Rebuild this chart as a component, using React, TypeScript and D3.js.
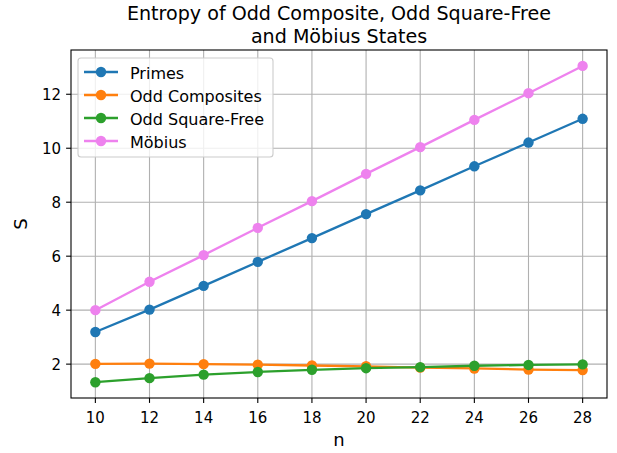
import React from "react";
import * as d3 from "d3";

const nValues = [10, 12, 14, 16, 18, 20, 22, 24, 26, 28];
const primes = [3.19, 4.02, 4.9, 5.79, 6.67, 7.56, 8.44, 9.33, 10.21, 11.09];
const oddComposites = [2.01, 2.02, 2.0, 1.98, 1.95, 1.92, 1.87, 1.84, 1.8, 1.78];
const oddSquareFree = [1.33, 1.48, 1.61, 1.71, 1.79, 1.85, 1.89, 1.94, 1.97, 1.99];
const mobius = [4.0, 5.05, 6.04, 7.05, 8.04, 9.05, 10.04, 11.05, 12.04, 13.05];
const seriesNames = ["Primes", "Odd Composites", "Odd Square-Free", "Möbius"];
const seriesColors = ["#1f77b4", "#ff7f0e", "#2ca02c", "violet"];
const xTicks = [10, 12, 14, 16, 18, 20, 22, 24, 26, 28];
const yTicks = [2, 4, 6, 8, 10, 12];
const titleLines = ["Entropy of Odd Composite, Odd Square-Free", "and Möbius States"];

export default function App() {
  const W = 617, H = 453;
  const left = 71, right = 607, top = 50, bottom = 398;
  const x = d3.scaleLinear().domain([9.1, 28.9]).range([left, right]);
  const y = d3.scaleLinear().domain([0.745, 13.64]).range([bottom, top]);
  const allSeries = [primes, oddComposites, oddSquareFree, mobius];
  const line = d3.line<number>().x((_, i) => x(nValues[i])).y((d) => y(d));
  const font = "DejaVu Sans, sans-serif";
  const legX = 78, legY = 58, legW = 195, legH = 99;
  return (
    <svg width={W} height={H} style={{ position: "absolute", left: 0, top: 0 }} fontFamily={font}>
      <rect width={W} height={H} fill="white" />
      {titleLines.map((t, i) => (
        <text key={i} x={(left + right) / 2} y={20 + i * 22.5} textAnchor="middle" fontSize={19.1} fill="black">{t}</text>
      ))}
      {xTicks.map((t) => (
        <g key={"x" + t}>
          <line x1={x(t)} x2={x(t)} y1={top} y2={bottom} stroke="#b0b0b0" strokeWidth={1.1} />
          <line x1={x(t)} x2={x(t)} y1={bottom} y2={bottom + 4.9} stroke="black" strokeWidth={1.1} />
          <text x={x(t)} y={bottom + 24.5} textAnchor="middle" fontSize={15}>{t}</text>
        </g>
      ))}
      {yTicks.map((t) => (
        <g key={"y" + t}>
          <line x1={left} x2={right} y1={y(t)} y2={y(t)} stroke="#b0b0b0" strokeWidth={1.1} />
          <line x1={left - 4.9} x2={left} y1={y(t)} y2={y(t)} stroke="black" strokeWidth={1.1} />
          <text x={left - 10} y={y(t) + 5.5} textAnchor="end" fontSize={15}>{t}</text>
        </g>
      ))}
      {allSeries.map((s, k) => (
        <g key={"s" + k}>
          <path d={line(s) || ""} fill="none" stroke={seriesColors[k]} strokeWidth={2.3} />
          {s.map((v, i) => (
            <circle key={i} cx={x(nValues[i])} cy={y(v)} r={5.2} fill={seriesColors[k]} />
          ))}
        </g>
      ))}
      <rect x={left} y={top} width={right - left} height={bottom - top} fill="none" stroke="black" strokeWidth={1.1} />
      <text x={(left + right) / 2} y={446} textAnchor="middle" fontSize={18}>n</text>
      <text transform={`translate(27,${(top + bottom) / 2}) rotate(-90)`} textAnchor="middle" fontSize={18}>S</text>
      <g>
        <rect x={legX} y={legY} width={legW} height={legH} rx={3} fill="white" fillOpacity={0.8} stroke="#cccccc" strokeWidth={1.1} />
        {seriesNames.map((name, k) => {
          const cy = legY + 14 + k * 23;
          return (
            <g key={name}>
              <line x1={84} x2={118} y1={cy} y2={cy} stroke={seriesColors[k]} strokeWidth={2.3} />
              <circle cx={101} cy={cy} r={5.2} fill={seriesColors[k]} />
              <text x={130} y={cy + 6.5} fontSize={16}>{name}</text>
            </g>
          );
        })}
      </g>
    </svg>
  );
}
